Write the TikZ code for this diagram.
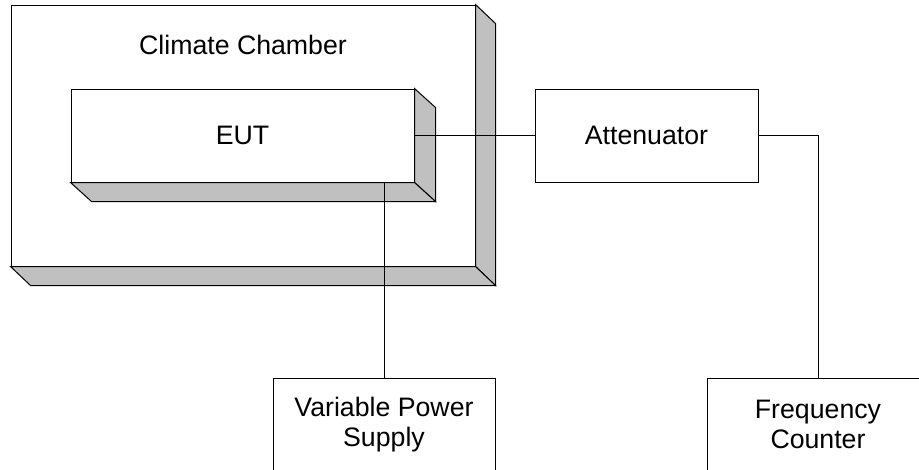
\documentclass[tikz,border=0pt]{standalone}
\usepackage{fontspec}
\setmainfont{Liberation Sans}
\usetikzlibrary{calc}

\begin{document}
\begin{tikzpicture}[
  x=1pt,y=-1pt,
  box/.style={draw, fill=white, line width=1pt, inner sep=0pt, align=center, font=\fontsize{26.7}{30}\selectfont},
  face/.style={draw, fill=facegray, line width=1pt, line join=miter},
  wire/.style={line width=1pt}
]
\definecolor{facegray}{RGB}{192,192,192}
\clip (0,0) rectangle (919,469);
\fill[white] (0,0) rectangle (919,469);
% climate chamber with its depth
\node[box, minimum width=464pt, minimum height=261pt] (chamber) at (243,135.5) {};
\draw[face] (chamber.north east) -- ++(20,19) -- ($(chamber.south east)+(20,19)$) -- (chamber.south east) -- cycle;
\draw[face] (chamber.south west) -- ++(20,19) -- ($(chamber.south east)+(20,19)$) -- (chamber.south east) -- cycle;
\node[font=\fontsize{26.7}{30}\selectfont] (chambertitle) at (243,45) {Climate Chamber};
% equipment under test
\node[box, minimum width=343pt, minimum height=93pt] (eut) at (242.5,135.5) {EUT};
\draw[face] (eut.north east) -- ++(21,19) -- ($(eut.south east)+(21,19)$) -- (eut.south east) -- cycle;
\draw[face] (eut.south west) -- ++(21,19) -- ($(eut.south east)+(21,19)$) -- (eut.south east) -- cycle;
% outside equipment
\node[box, minimum width=223pt, minimum height=93pt] (att) at (646.5,135.5) {Attenuator};
\node[box, minimum width=222pt, minimum height=93pt] (psu) at (384,424.5) {Variable Power\\Supply};
\node[box, minimum width=222pt, minimum height=93pt] (counter) at (818,424.5) {Frequency\\Counter};
% wiring
\draw[wire] (eut.east) -- (att.west);
\draw[wire] (att.east) -| (counter.north);
\draw[wire] (psu.north |- eut.south) -- (psu.north);
\end{tikzpicture}
\end{document}
